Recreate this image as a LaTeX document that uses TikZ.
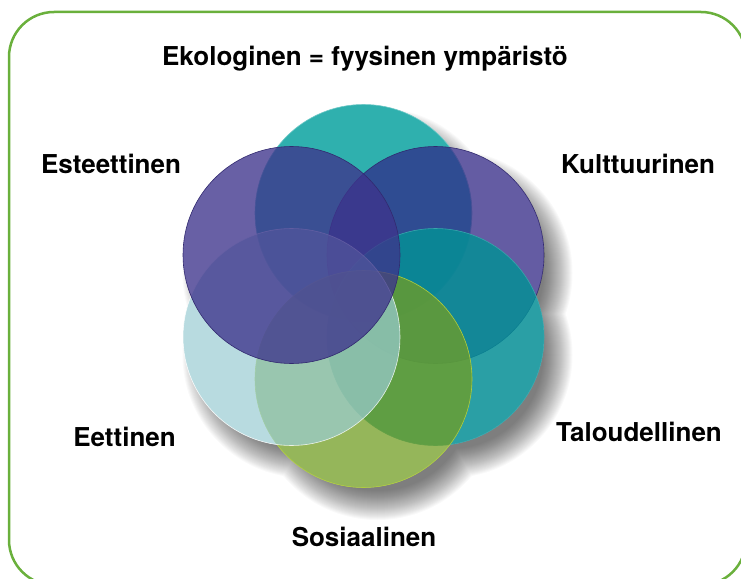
\documentclass[tikz,border=0pt]{standalone}
\usepackage{fontspec}
\setmainfont{TeX Gyre Heros}

\definecolor{frameGreen}{RGB}{106,176,60}
\definecolor{ekoTeal}{RGB}{47,176,174}
\definecolor{ringPurple}{RGB}{62,52,140}
\definecolor{taloTeal}{RGB}{5,143,150}
\definecolor{sosGreen}{RGB}{114,158,35}
\definecolor{sosEdge}{RGB}{175,205,60}
\definecolor{eetCyan}{RGB}{155,205,212}

\tikzset{
  ring/.style={circle, minimum size=217pt, inner sep=0pt, line width=0.6pt},
  dimtext/.style={font=\bfseries\fontsize{26}{30}\selectfont, anchor=base, inner sep=0pt}
}

\begin{document}
\begin{tikzpicture}[x=1pt, y=-1pt]
\useasboundingbox (0,0) rectangle (741,578);
% kehys
\begin{scope}
\clip (0,0) rectangle (741,578);
\draw[frameGreen, line width=2.5pt, rounded corners=45pt] (9,12) rectangle (746,585);
\end{scope}
% ympyröiden keskipisteet
\coordinate (ekoC) at (363.5,213);
\coordinate (estC) at (291.5,255);
\coordinate (kultC) at (435.5,255);
\coordinate (taloC) at (435.5,337);
\coordinate (sosC) at (363.5,379);
\coordinate (eetC) at (291.5,337);
% varjo
\foreach \r in {123,122,...,94}
  \fill[black, opacity=0.022]
    ([shift={(14,18)}]ekoC) circle[radius=\r] ([shift={(14,18)}]estC) circle[radius=\r]
    ([shift={(14,18)}]kultC) circle[radius=\r] ([shift={(14,18)}]taloC) circle[radius=\r]
    ([shift={(14,18)}]sosC) circle[radius=\r] ([shift={(14,18)}]eetC) circle[radius=\r];
\fill[white]
  (ekoC) circle[radius=108.5] (estC) circle[radius=108.5] (kultC) circle[radius=108.5]
  (taloC) circle[radius=108.5] (sosC) circle[radius=108.5] (eetC) circle[radius=108.5];
% ympyrät
\node[ring, fill=ekoTeal, draw=ekoTeal!70!white] (eko) at (ekoC) {};
\node[ring, fill=ringPurple, fill opacity=0.8, draw=ringPurple!80!black, blend mode=darken] (kult) at (kultC) {};
\node[ring, fill=taloTeal, fill opacity=0.85, draw=taloTeal!80!white] (talo) at (taloC) {};
\node[ring, fill=sosGreen, fill opacity=0.75, draw=sosEdge] (sos) at (sosC) {};
\node[ring, fill=eetCyan, fill opacity=0.7, draw=white, draw opacity=0.8] (eet) at (eetC) {};
\node[ring, fill=ringPurple, fill opacity=0.78, draw=ringPurple!80!black] (est) at (estC) {};
% tekstit
\node[dimtext] (ekoText) at (365,66) {Ekologinen = fyysinen ympäristö};
\node[dimtext] (estText) at (111,173) {Esteettinen};
\node[dimtext] (kultText) at (638,173) {Kulttuurinen};
\node[dimtext] (eetText) at (124.5,446) {Eettinen};
\node[dimtext] (taloText) at (639,441) {Taloudellinen};
\node[dimtext] (sosText) at (364,546) {Sosiaalinen};
\end{tikzpicture}
\end{document}
